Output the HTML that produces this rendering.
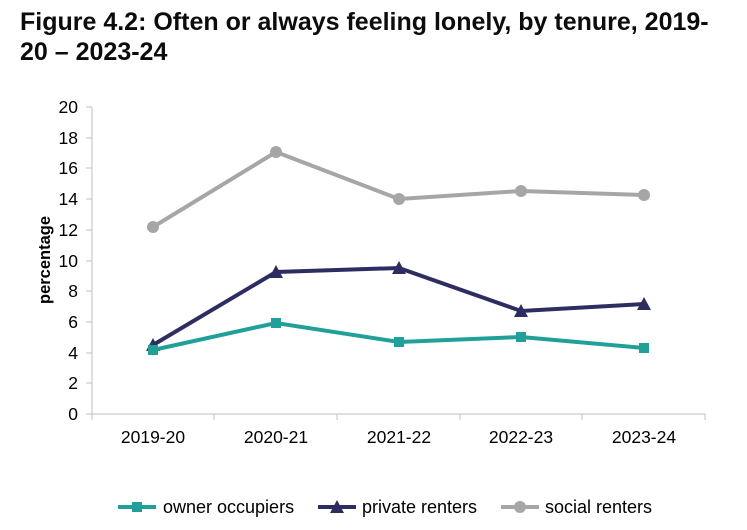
<!DOCTYPE html>
<html><head><meta charset="utf-8"><style>
body{margin:0;background:#fff;width:747px;height:530px;overflow:hidden;font-family:"Liberation Sans",Arial,sans-serif}
.t{position:absolute;left:20px;top:7px;font-size:25px;font-weight:bold;line-height:30px;color:#0b0c0c;width:727px;white-space:nowrap}
</style></head><body>
<div class="t">Figure 4.2: Often or always feeling lonely, by tenure, 2019-<br>20 – 2023-24</div>
<svg width="747" height="530" style="position:absolute;left:0;top:0" font-family="Liberation Sans, Arial, sans-serif">
<g stroke="#bfbfbf" stroke-width="1">
<line x1="92" y1="107" x2="92" y2="414"/>
<line x1="92" y1="414" x2="705" y2="414"/>
<line x1="86" y1="107" x2="92" y2="107"/><line x1="86" y1="138" x2="92" y2="138"/><line x1="86" y1="168" x2="92" y2="168"/><line x1="86" y1="199" x2="92" y2="199"/><line x1="86" y1="230" x2="92" y2="230"/><line x1="86" y1="261" x2="92" y2="261"/><line x1="86" y1="291" x2="92" y2="291"/><line x1="86" y1="322" x2="92" y2="322"/><line x1="86" y1="353" x2="92" y2="353"/><line x1="86" y1="383" x2="92" y2="383"/><line x1="86" y1="414" x2="92" y2="414"/>
<line x1="92" y1="414" x2="92" y2="420"/><line x1="214" y1="414" x2="214" y2="420"/><line x1="337" y1="414" x2="337" y2="420"/><line x1="460" y1="414" x2="460" y2="420"/><line x1="582" y1="414" x2="582" y2="420"/><line x1="705" y1="414" x2="705" y2="420"/>
</g>
<g font-size="17.5" fill="#000" text-anchor="end">
<text x="78" y="113">20</text><text x="78" y="144">18</text><text x="78" y="174">16</text><text x="78" y="205">14</text><text x="78" y="236">12</text><text x="78" y="267">10</text><text x="78" y="297">8</text><text x="78" y="328">6</text><text x="78" y="359">4</text><text x="78" y="389">2</text><text x="78" y="420">0</text>
</g>
<g font-size="17.5" fill="#000" text-anchor="middle">
<text x="153" y="443">2019-20</text><text x="276" y="443">2020-21</text><text x="399" y="443">2021-22</text><text x="521" y="443">2022-23</text><text x="644" y="443">2023-24</text>
</g>
<text transform="translate(50,260) rotate(-90)" font-size="16.5" font-weight="bold" text-anchor="middle">percentage</text>
<polyline fill="none" stroke="#a6a6a6" stroke-width="4" points="153,227 276,152 399,199 521,191 644,195"/>
<g fill="#a6a6a6"><circle cx="153" cy="227" r="6"/><circle cx="276" cy="152" r="6"/><circle cx="399" cy="199" r="6"/><circle cx="521" cy="191" r="6"/><circle cx="644" cy="195" r="6"/></g>
<polyline fill="none" stroke="#2e2d62" stroke-width="4" points="153,345 276,272 399,268 521,311 644,304"/>
<g fill="#2e2d62"><polygon points="153,338 160,351 146,351"/><polygon points="276,265 283,278 269,278"/><polygon points="399,261 406,274 392,274"/><polygon points="521,304 528,317 514,317"/><polygon points="644,297 651,310 637,310"/></g>
<polyline fill="none" stroke="#21a09a" stroke-width="4" points="153,350 276,323 399,342 521,337 644,348"/>
<g fill="#21a09a"><rect x="148" y="345" width="10" height="10"/><rect x="271" y="318" width="10" height="10"/><rect x="394" y="337" width="10" height="10"/><rect x="516" y="332" width="10" height="10"/><rect x="639" y="343" width="10" height="10"/></g>
<g font-size="18" fill="#000">
<line x1="118" y1="507" x2="156" y2="507" stroke="#21a09a" stroke-width="4"/><rect x="132" y="502" width="10" height="10" fill="#21a09a"/>
<text x="163" y="513">owner occupiers</text>
<line x1="318" y1="507" x2="356" y2="507" stroke="#2e2d62" stroke-width="4"/><polygon points="337,500 344,513 330,513" fill="#2e2d62"/>
<text x="362" y="513">private renters</text>
<line x1="501" y1="507" x2="539" y2="507" stroke="#a6a6a6" stroke-width="4"/><circle cx="520" cy="507" r="6" fill="#a6a6a6"/>
<text x="545" y="513">social renters</text>
</g>
</svg>
</body></html>
